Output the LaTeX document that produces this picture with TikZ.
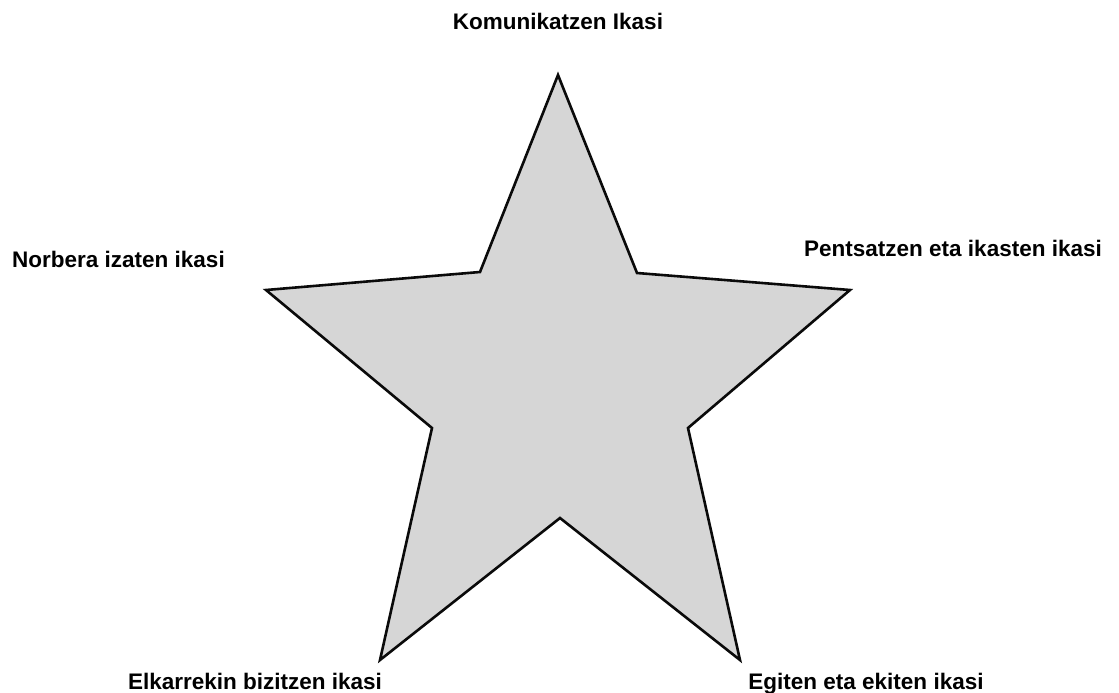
\documentclass[tikz,border=0pt]{standalone}
\usepackage{fontspec}
\setmainfont{Liberation Sans}
\usepackage{tikz}
\usetikzlibrary{positioning}
\definecolor{starfill}{RGB}{214, 214, 214}
\definecolor{starline}{RGB}{10, 10, 10}
\definecolor{labelcolor}{RGB}{0, 0, 0}
\tikzset{
pointlabel/.style={
  font=\fontsize{22.5}{27}\selectfont\bfseries,
  text=labelcolor,
  inner sep=0pt
},
starshape/.style={
  draw=starline,
  fill=starfill,
  line width=2.6pt,
  line join=miter
}
}

\begin{document}
\begin{tikzpicture}[x=1pt, y=-1pt]
    \useasboundingbox (0,0) rectangle (1119,693);

    % Star (outer tips and inner corners)
    \path[starshape]
      (558,75) -- (637,273) -- (850,290) -- (688,428) -- (740,660)
      -- (560,518) -- (380,660) -- (432,428) -- (266,290) -- (480,272) -- cycle;

    % Labels at the five tips
    \node[pointlabel, anchor=base] (komunikatzen) at (558,30) {Komunikatzen Ikasi};
    \node[pointlabel, anchor=base west] (norbera) at (12,267) {Norbera izaten ikasi};
    \node[pointlabel, anchor=base west] (pentsatzen) at (804,256) {Pentsatzen eta ikasten ikasi};
    \node[pointlabel, anchor=base] (elkarrekin) at (255,689) {Elkarrekin bizitzen ikasi};
    \node[pointlabel, anchor=base] (egiten) at (866,689) {Egiten eta ekiten ikasi};

  \end{tikzpicture}
\end{document}
